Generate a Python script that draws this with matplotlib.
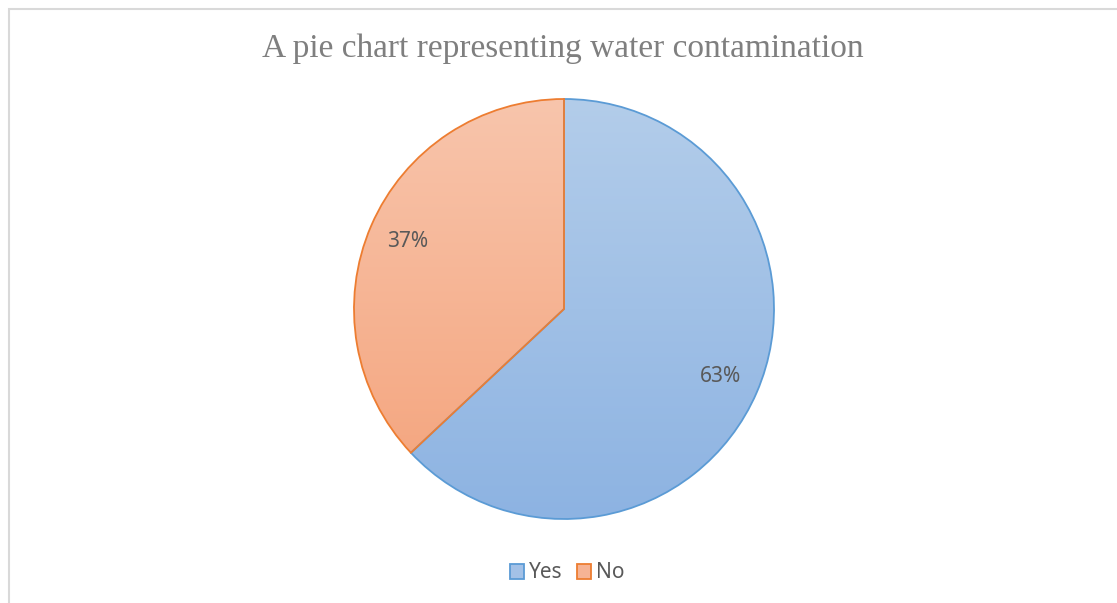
import numpy as np
import matplotlib
matplotlib.use('Agg')
import matplotlib.pyplot as plt
from matplotlib.colors import LinearSegmentedColormap
from matplotlib.patches import Rectangle

title = 'A pie chart representing water contamination'
labels = ['Yes', 'No']
values = [63, 37]
edge_colors = ['#5B9BD5', '#ED7D31']
grad_top = ['#B3CDEA', '#F8C5AC']
grad_bottom = ['#8DB3E2', '#F4A27A']
legend_fill = ['#A3C1E7', '#F6B394']


def main():
	W, H = 1117, 603
	fig = plt.figure(figsize=(W / 100, H / 100), dpi=100)
	ax = fig.add_axes([0, 0, 1, 1])
	ax.set_xlim(0, W)
	ax.set_ylim(0, H)
	ax.set_aspect('equal')
	ax.axis('off')

	# chart area frame (runs off the right and bottom edge)
	ax.add_patch(Rectangle((8.5, -10), W + 20, H - 8.5 + 10, fill=False,
		edgecolor='#D9D9D9', linewidth=1.5))

	cx, cy, r = 564, H - 309, 210
	wedges, texts, autotexts = ax.pie(values, startangle=90, counterclock=False,
		center=(cx, cy), radius=r, autopct='%1.0f%%', pctdistance=0.81,
		wedgeprops=dict(linewidth=1.3),
		textprops=dict(color='#595959', fontsize=15, family='Noto Sans'))
	ax.set_xlim(0, W)
	ax.set_ylim(0, H)

	# vertical gradient fill clipped to each wedge
	for w, top, bot, ec in zip(wedges, grad_top, grad_bottom, edge_colors):
		w.set_facecolor('none')
		w.set_edgecolor(ec)
		w.set_zorder(3)
		cmap = LinearSegmentedColormap.from_list('g', [bot, top])
		grad = np.linspace(0, 1, 256).reshape(-1, 1)
		im = ax.imshow(grad, cmap=cmap, origin='lower', aspect='auto',
			extent=[cx - r, cx + r, cy - r, cy + r], zorder=2)
		im.set_clip_path(w)
	for t in autotexts:
		t.set_zorder(4)

	ax.text(W / 2 + 4, H - 49, title, ha='center', va='center',
		fontsize=24, color='#7F7F7F', family='Liberation Serif')

	handles = [Rectangle((0, 0), 1, 1, facecolor=fc, edgecolor=ec, linewidth=1.3)
		for fc, ec in zip(legend_fill, edge_colors)]
	ax.legend(handles, labels, loc='center', bbox_to_anchor=(567 / W, 1 - 573 / H),
		ncol=2, frameon=False, handlelength=0.7, handleheight=0.7,
		handletextpad=0.2, columnspacing=0.7,
		prop=dict(family='Noto Sans', size=15), labelcolor='#595959')

	fig.savefig('out.png', dpi=100)
	plt.close()


if __name__ == '__main__':
	main()
